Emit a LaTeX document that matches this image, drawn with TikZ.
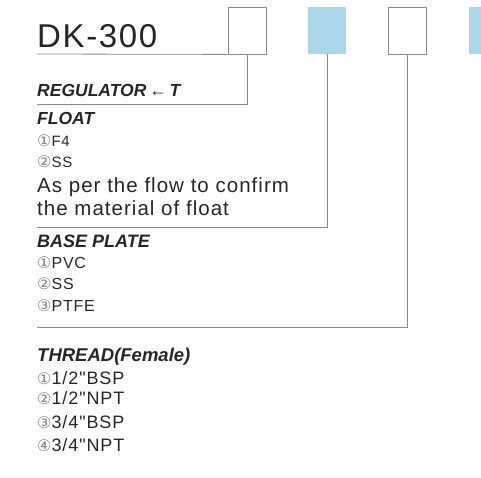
\documentclass[tikz,border=0pt]{standalone}
\usepackage{fontspec}
\setmainfont{Liberation Sans}
\newfontfamily\circfont{DejaVu Sans}
\newfontfamily\widefont[LetterSpace=5]{Liberation Sans}
\definecolor{ink}{HTML}{262626}
\definecolor{rule}{HTML}{8A8A8A}
\definecolor{cell}{HTML}{AAD8EA}
\newcommand\circd[1]{{\circfont\fontsize{16}{16}\selectfont\color{gray}#1}}

\begin{document}
\begin{tikzpicture}[x=1pt,y=-1pt,inner sep=0pt]
  \useasboundingbox(0,0)rectangle(481,477);
  \clip(0,0)rectangle(481,477);
  \tikzstyle{bx}=[draw=rule,line width=0.8pt,minimum width=38pt,minimum height=47pt]
  \tikzstyle{cb}=[fill=cell,minimum width=38pt,minimum height=47pt]
  \tikzstyle{hd}=[anchor=base west,text=ink,font=\fontsize{17.5}{17.5}\selectfont\bfseries\itshape]
  \tikzstyle{it}=[anchor=base west,text=ink,font=\widefont\fontsize{16}{16}\selectfont]
  % code boxes
  \node[anchor=base west,text=ink,font=\widefont\fontsize{33}{33}\selectfont](dk)at(37,47){DK-300};
  \node[bx](b1)at(247,30.5){};
  \node[cb](b2)at(327,30.5){};
  \node[bx](b3)at(407,30.5){};
  \node[cb](b4)at(488,30.5){};
  % regulator
  \node[hd](reg)at(37,96){REGULATOR\,←\,T};
  % float
  \node[hd](flt)at(37,124){FLOAT};
  \node[it,font=\widefont\fontsize{15}{15}\selectfont](f1)at(37,146){\circd{①}F4};
  \node[it,font=\widefont\fontsize{15}{15}\selectfont](f2)at(37,167){\circd{②}SS};
  \node[it,font=\widefont\fontsize{20.5}{20.5}\selectfont](fn1)at(37,192){As per the flow to confirm};
  \node[it,font=\widefont\fontsize{20.5}{20.5}\selectfont](fn2)at(37,215){the material of float};
  % base plate
  \node[hd,font=\fontsize{18}{18}\selectfont\bfseries\itshape](bp)at(37,247){BASE PLATE};
  \node[it](p1)at(37,268){\circd{①}PVC};
  \node[it](p2)at(37,289){\circd{②}SS};
  \node[it](p3)at(37,311){\circd{③}PTFE};
  % thread
  \node[hd,font=\fontsize{18.5}{18.5}\selectfont\bfseries\itshape](thr)at(37,361){THREAD(Female)};
  \node[it,font=\widefont\fontsize{18}{18}\selectfont](t1)at(37,384){\circd{①}1/2"BSP};
  \node[it,font=\widefont\fontsize{18}{18}\selectfont](t2)at(37,404){\circd{②}1/2"NPT};
  \node[it,font=\widefont\fontsize{18}{18}\selectfont](t3)at(37,428){\circd{③}3/4"BSP};
  \node[it,font=\widefont\fontsize{18}{18}\selectfont](t4)at(37,451){\circd{④}3/4"NPT};
  % leader lines
  \tikzstyle{ln}=[draw=rule,line width=0.8pt]
  \coordinate(u0)at(37,54);
  \coordinate(e1)at(37,104);
  \coordinate(e2)at(37,227);
  \coordinate(e3)at(37,327);
  \draw[ln](u0)--(b1.south west);
  \foreach\b/\e in{b1/e1,b2/e2,b3/e3}{\draw[ln](\b.south)|-(\e);}
\end{tikzpicture}
\end{document}
